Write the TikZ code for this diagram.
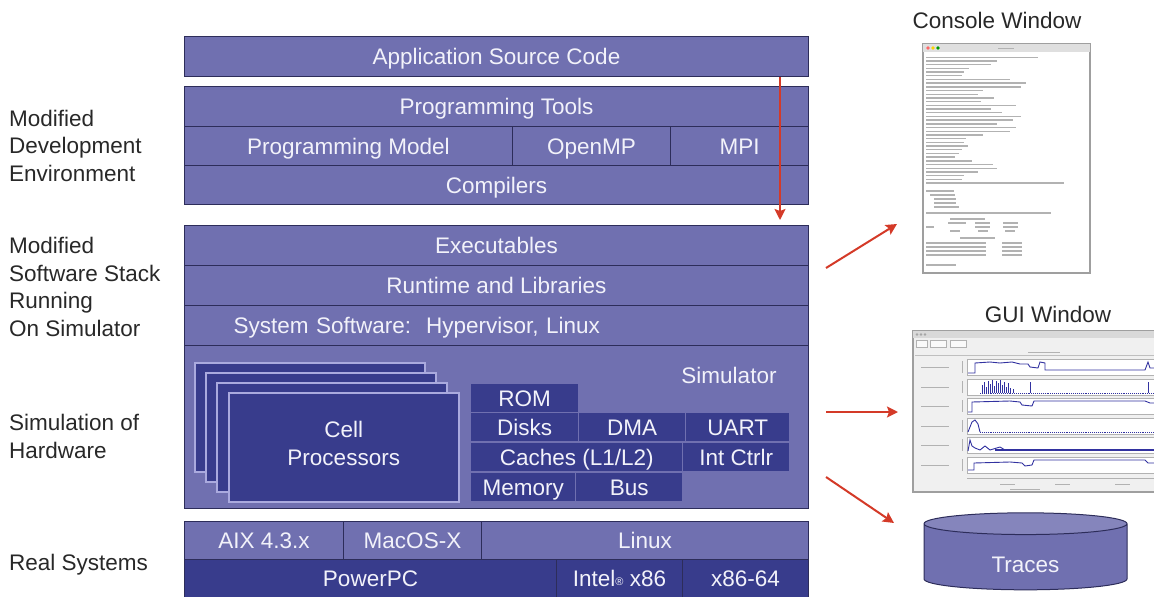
\documentclass[tikz,border=0pt]{standalone}
\usepackage{fontspec}
\setmainfont{Liberation Sans}
\usepackage{tikz}
\usetikzlibrary{shapes.geometric,arrows.meta}

\definecolor{lightblk}{RGB}{112,112,176}
\definecolor{darkblk}{RGB}{56,60,140}
\definecolor{edge}{RGB}{45,45,90}
\definecolor{cpuedge}{RGB}{170,170,222}
\definecolor{arrowred}{RGB}{212,58,40}
\definecolor{boxtext}{RGB}{242,242,250}
\definecolor{sidetext}{RGB}{40,40,40}
\definecolor{plotblue}{RGB}{50,50,160}

\tikzstyle{layer} = [rectangle, anchor=north west, inner sep=0pt, text height=16pt, text depth=0pt, draw=edge, line width=1pt, fill=lightblk, text=boxtext]
\tikzstyle{hwbox} = [rectangle, anchor=north west, inner sep=0pt, text height=16pt, text depth=0pt, fill=darkblk, text=boxtext, minimum height=28pt]
\tikzstyle{cpu} = [rectangle, anchor=north west, inner sep=0pt, fill=darkblk, text=boxtext, draw=cpuedge, line width=1.5pt, minimum width=230pt, minimum height=109pt, align=center]
\tikzstyle{sidelabel} = [anchor=west, align=left, text=sidetext, inner sep=0pt]
\tikzstyle{wintitle} = [text=sidetext, inner sep=0pt]
\tikzstyle{db} = [cylinder, shape border rotate=90, aspect=0.32, draw=edge, line width=1pt, cylinder uses custom fill, cylinder body fill=lightblk, cylinder end fill=lightblk!85!white, minimum width=203pt, minimum height=77pt, text=boxtext, inner sep=0pt, text height=30pt, text depth=0pt]
\tikzstyle{arrow} = [line width=2pt, draw=arrowred, -{Stealth[length=11pt,width=11pt,inset=2pt]}, arrowred]
\tikzstyle{txtline} = [gray!60, line width=1.4pt]
\tikzstyle{trace} = [plotblue, line width=0.9pt]

\begin{document}
\begin{tikzpicture}[x=1pt, y=-1pt, every node/.style={font=\fontsize{22.5}{27.5}\selectfont}]
	\useasboundingbox (0,0) rectangle (1154,597);

	% development environment
	\node (src) [layer, minimum width=624pt, minimum height=40pt] at (184,36) {Application Source Code};
	\node (tools) [layer, minimum width=624pt, minimum height=40pt] at (184,86) {Programming Tools};
	\node (model) [layer, minimum width=328pt, minimum height=39pt] at (184,126) {Programming Model};
	\node (openmp) [layer, minimum width=158pt, minimum height=39pt] at (512,126) {OpenMP};
	\node (mpi) [layer, minimum width=138pt, minimum height=39pt] at (670,126) {MPI};
	\node (compilers) [layer, minimum width=624pt, minimum height=39pt] at (184,165) {Compilers};

	% software stack on the simulator
	\node (exe) [layer, minimum width=624pt, minimum height=40pt] at (184,225) {Executables};
	\node (runtime) [layer, minimum width=624pt, minimum height=40pt] at (184,265) {Runtime and Libraries};
	\node (syssw) [layer, text width=526pt, inner xsep=49pt, minimum height=40pt, align=left] at (184,305) {System Software:\ \ Hypervisor, Linux};
	\node (sim) [layer, minimum width=624pt, minimum height=163pt] at (184,345) {};
	\node (simlbl) [text=boxtext] at (729,375) {Simulator};

	\foreach \i/\x/\y in {1/194/362, 2/205/372, 3/216/382}
		\node (cell\i) [cpu] at (\x,\y) {};
	\node (cell4) [cpu, text depth=8pt] at (228,392) {Cell\\Processors};

	\node (rom) [hwbox, minimum width=107pt] at (471,384) {ROM};
	\node (disks) [hwbox, minimum width=107pt] at (471,413) {Disks};
	\node (dma) [hwbox, minimum width=106pt] at (579,413) {DMA};
	\node (uart) [hwbox, minimum width=103pt] at (686,413) {UART};
	\node (caches) [hwbox, minimum width=211pt] at (471,443) {Caches (L1/L2)};
	\node (intctrl) [hwbox, minimum width=106pt] at (683,443) {Int Ctrlr};
	\node (memory) [hwbox, minimum width=104pt] at (471,473) {Memory};
	\node (bus) [hwbox, minimum width=106pt] at (576,473) {Bus};

	% real systems
	\node (aix) [layer, minimum width=159pt, minimum height=38pt] at (184,521) {AIX 4.3.x};
	\node (macos) [layer, minimum width=138pt, minimum height=38pt] at (343,521) {MacOS-X};
	\node (linux) [layer, minimum width=327pt, minimum height=38pt] at (481,521) {Linux};
	\node (ppc) [layer, fill=darkblk, minimum width=372pt, minimum height=38pt] at (184,559) {PowerPC};
	\node (intel) [layer, fill=darkblk, minimum width=126pt, minimum height=38pt] at (556,559) {Intel{\fontsize{11}{11}\selectfont\raisebox{1pt}{®}} x86};
	\node (x8664) [layer, fill=darkblk, minimum width=126pt, minimum height=38pt] at (682,559) {x86-64};

	% side labels
	\node (devlbl) [sidelabel] at (9,145.5) {Modified\\Development\\Environment};
	\node (swlbl) [sidelabel] at (9,287) {Modified\\Software Stack\\Running\\On Simulator};
	\node (hwlbl) [sidelabel] at (9,436.5) {Simulation of\\Hardware};
	\node (reallbl) [sidelabel] at (9,565) {Real Systems};

	% console window
	\node (contitle) [wintitle] at (997,20) {Console Window};
	\draw [gray!75, line width=1.4pt, fill=white] (923,44) rectangle (1090,273);
	\fill [gray!25] (923,44) rectangle (1090,52);
	\fill [red!60] (928,48) circle (1.8);
	\fill [yellow!70!orange] (933,48) circle (1.8);
	\fill [green!60!black] (938,48) circle (1.8);
	\draw [txtline, line width=0.8pt] (998,48) -- ++(16,0);
	\foreach \l [count=\i] in {118,75,68,45,40,38,88,105,100,60,55,72,58,95,68,80,100,92,75,95,88,60,42,40,44,38,35,30,48,70,75,55,40,38,145}
		\draw [txtline] (926,53.5+3.7*\i) -- ++(\l*0.95,0);
	\foreach \x/\y/\l in {926/191/28, 930/195/25, 934/199/22, 934/203/22, 934/207/25, 926/213/125, 950/219/35, 948/223/18, 975/223/15, 1003/223/15, 926/227/8, 975/227/15, 1003/227/15, 950/231/10, 978/231/10, 1005/231/10, 960/238/35, 926/243/60, 1002/243/20, 926/247/60, 1002/247/20, 926/251/60, 1002/251/20, 926/255/60, 1002/255/20, 926/265/30}
		\draw [txtline] (\x,\y) -- ++(\l,0);

	% gui window
	\node (guititle) [wintitle] at (1048,314) {GUI Window};
	\begin{scope}
		\clip (900,325) rectangle (1154,497);
		\draw [gray!75, line width=1.4pt, fill=gray!12] (913,331) rectangle (1170,492);
		\fill [gray!30] (913,331) rectangle (1170,338);
		\foreach \x in {917,921,925}
			\fill [gray!70] (\x,334.5) circle (1.3);
		\foreach \a/\b in {916/927, 930/946, 950/966}
			\draw [gray!60, fill=gray!4] (\a,340) rectangle (\b,347);
		\draw [txtline, line width=0.8pt] (1028,352) -- (1060,352);
		\draw [gray!50] (915,355) -- (1170,355);
		\foreach \y in {359,379,398,418,437,457} {
			\draw [gray!60, fill=white] (967,\y) rectangle (1170,\y+16);
			\draw [txtline, line width=0.9pt] (921,\y+8) -- ++(28,0);
			\draw [gray!60] (962,\y+2) -- (962,\y+14);
		}
		\draw [gray!60] (967,478) -- (1170,478);
		\foreach \x in {1000,1055,1115}
			\draw [txtline, line width=0.8pt] (\x,484) -- ++(15,0);
		\draw [txtline, line width=0.8pt] (1010,489) -- ++(30,0);
		% traces
		\draw [trace] (968,373) -- (975,373) -- (975,363) -- (990,362) -- (1000,363) -- (1012,362) -- (1020,364) -- (1028,364) -- (1030,367) -- (1038,368) -- (1040,362) -- (1045,363) -- (1045,370) -- (1145,370) -- (1148,362) -- (1150,368) -- (1160,368);
		\foreach \x/\h in {982/8,984/11,986/6,988/12,990/9,992/13,994/7,996/12,998/10,1000/13,1002/8,1004/11,1006/6,1008/10,1010/5,1013/4,1030/11,1148/11}
			\draw [trace] (\x,393) -- (\x,393-\h);
		\draw [trace, densely dotted] (980,393) -- (1160,393);
		\draw [trace] (968,412) -- (972,412) -- (972,402) -- (1010,401) -- (1020,402) -- (1022,405) -- (1032,406) -- (1034,401) -- (1145,401) -- (1150,403) -- (1160,403);
		\draw [trace] (968,432) -- (972,422) -- (975,420) -- (978,424) -- (980,432);
		\draw [trace, densely dotted] (980,432) -- (1160,432);
		\draw [trace] (968,451) -- (970,440) -- (972,446) -- (975,448) -- (980,450) -- (985,446) -- (990,450) -- (1000,447) -- (1005,450);
		\draw [trace, line width=2pt] (995,450) -- (1160,450);
		\draw [trace] (968,470) -- (974,470) -- (974,463) -- (1010,462) -- (1022,463) -- (1025,466) -- (1032,465) -- (1034,460) -- (1145,460) -- (1148,463) -- (1160,463);
	\end{scope}

	% traces store
	\node (traces) [db] at (1025.5,557) {Traces};

	% arrows
	\coordinate (flowx) at (780,0);
	\coordinate (out1) at (826,268);
	\coordinate (in1) at (897,224);
	\coordinate (out2) at (826,412);
	\coordinate (in2) at (898,412);
	\coordinate (out3) at (826,477);
	\coordinate (in3) at (894,523);

	\draw [arrow, shorten >=5pt] (src.south -| flowx) -- (exe.north -| flowx);
	\draw [arrow] (out1) -- (in1);
	\draw [arrow] (out2) -- (in2);
	\draw [arrow] (out3) -- (in3);

\end{tikzpicture}
\end{document}
